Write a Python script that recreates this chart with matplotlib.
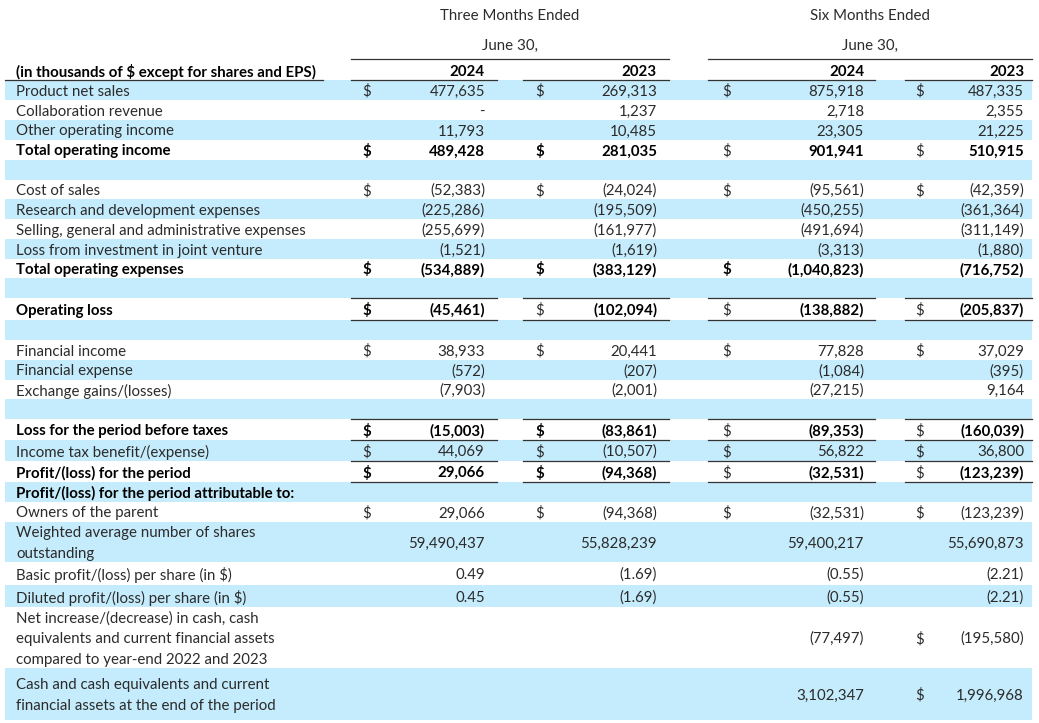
import matplotlib.pyplot as plt
from matplotlib.patches import Rectangle

plt.rcParams['font.family'] = ['Lato', 'DejaVu Sans']
plt.rcParams['text.parse_math'] = False

# table content
labels = [
    "Product net sales",
    "Collaboration revenue",
    "Other operating income",
    "Total operating income",
    "",
    "Cost of sales",
    "Research and development expenses",
    "Selling, general and administrative expenses",
    "Loss from investment in joint venture",
    "Total operating expenses",
    "",
    "Operating loss",
    "",
    "Financial income",
    "Financial expense",
    "Exchange gains/(losses)",
    "",
    "Loss for the period before taxes",
    "Income tax benefit/(expense)",
    "Profit/(loss) for the period",
    "Profit/(loss) for the period attributable to:",
    "Owners of the parent",
    "Weighted average number of shares\noutstanding",
    "Basic profit/(loss) per share (in $)",
    "Diluted profit/(loss) per share (in $)",
    "Net increase/(decrease) in cash, cash\nequivalents and current financial assets\ncompared to year-end 2022 and 2023",
    "Cash and cash equivalents and current\nfinancial assets at the end of the period",
]

q2_2024 = ["477,635", "-", "11,793", "489,428", "", "(52,383)", "(225,286)", "(255,699)",
           "(1,521)", "(534,889)", "", "(45,461)", "", "38,933", "(572)", "(7,903)", "",
           "(15,003)", "44,069", "29,066", "", "29,066", "59,490,437", "0.49", "0.45", "", ""]
q2_2023 = ["269,313", "1,237", "10,485", "281,035", "", "(24,024)", "(195,509)", "(161,977)",
           "(1,619)", "(383,129)", "", "(102,094)", "", "20,441", "(207)", "(2,001)", "",
           "(83,861)", "(10,507)", "(94,368)", "", "(94,368)", "55,828,239", "(1.69)", "(1.69)", "", ""]
h1_2024 = ["875,918", "2,718", "23,305", "901,941", "", "(95,561)", "(450,255)", "(491,694)",
           "(3,313)", "(1,040,823)", "", "(138,882)", "", "77,828", "(1,084)", "(27,215)", "",
           "(89,353)", "56,822", "(32,531)", "", "(32,531)", "59,400,217", "(0.55)", "(0.55)",
           "(77,497)", "3,102,347"]
h1_2023 = ["487,335", "2,355", "21,225", "510,915", "", "(42,359)", "(361,364)", "(311,149)",
           "(1,880)", "(716,752)", "", "(205,837)", "", "37,029", "(395)", "9,164", "",
           "(160,039)", "36,800", "(123,239)", "", "(123,239)", "55,690,873", "(2.21)", "(2.21)",
           "(195,580)", "1,996,968"]
columns = [q2_2024, q2_2023, h1_2024, h1_2023]
years = ["2024", "2023", "2024", "2023"]
groups = ["Three Months Ended", "Six Months Ended"]
dates = ["June 30,", "June 30,"]
header = "(in thousands of $ except for shares and EPS)"

# rows that carry a "$" sign, per column
dollar_rows = [
    [0, 3, 5, 9, 11, 13, 17, 18, 19, 21],
    [0, 3, 5, 9, 11, 13, 17, 18, 19, 21],
    [0, 3, 5, 9, 11, 13, 17, 18, 19, 21],
    [0, 3, 5, 11, 13, 17, 18, 19, 21, 25, 26],
]

# styling / layout
bold_rows = [3, 9, 11, 17, 19, 20]
bold_dollar = {3: [0, 1], 9: [0, 1, 2], 11: [0], 17: [0, 1], 19: [0, 1]}
row_h = [20, 20, 20, 20, 20, 19, 20, 20, 20, 19, 20, 22, 20, 20, 20, 19, 20,
         21, 21, 21, 20, 20, 40, 23, 22, 61, 52]
top_lines = [11, 17]
bottom_lines = [11, 17, 18, 19]
blue = '#C5ECFC'
ink = '#2B2B2B'
fs = 10.8
dy = 1.5  # small downward nudge of the text baseline

blocks = [(351, 497), (523, 669), (708, 875), (905, 1032)]
dollar_x = [362, 535, 722, 915]
value_x = [485, 657, 864, 1024]
label_x = 16
table_l, table_r = 5, 1032
y0 = 80

fig = plt.figure(figsize=(10.39, 7.23), dpi=100)
ax = fig.add_axes([0, 0, 1, 1])
ax.set_xlim(0, 1039)
ax.set_ylim(723, 0)
ax.axis('off')

# group headers
for g, (d, (a, b)) in enumerate(zip(dates, [(351, 669), (708, 1032)])):
    cx = (a + b) / 2
    ax.text(cx, 14 + dy, groups[g], ha='center', va='center', fontsize=fs, color=ink)
    ax.text(cx, 44 + dy, d, ha='center', va='center', fontsize=fs, color=ink)
    ax.plot([a, b], [59, 59], color='#333333', lw=0.9)

ax.text(label_x, 70 + dy, header, ha='left', va='center', fontsize=fs,
        fontweight='bold', color='black')
ax.plot([table_l, 323], [80, 80], color='#333333', lw=0.9)
for c, (a, b) in enumerate(blocks):
    ax.text(value_x[c], 70 + dy, years[c], ha='right', va='center', fontsize=fs,
            fontweight='bold', color='black')
    ax.plot([a, b], [80, 80], color='#333333', lw=0.9)

y = y0
for i, lab in enumerate(labels):
    h = row_h[i]
    if i % 2 == 0:
        ax.add_patch(Rectangle((table_l, y), table_r - table_l, h,
                               facecolor=blue, edgecolor='none', zorder=0))
    cy = y + h / 2 + dy
    bold = i in bold_rows
    col = 'black' if bold else ink
    ax.text(label_x, cy, lab, ha='left', va='center', fontsize=fs,
            fontweight='bold' if bold else 'normal', color=col, linespacing=1.58)
    for c, vals in enumerate(columns):
        if vals[i]:
            ax.text(value_x[c], cy, vals[i], ha='right', va='center', fontsize=fs,
                    fontweight='bold' if bold else 'normal', color=col)
        if i in dollar_rows[c]:
            bd = c in bold_dollar.get(i, [])
            ax.text(dollar_x[c], cy, "$", ha='left', va='center', fontsize=fs,
                    fontweight='bold' if bd else 'normal',
                    color='black' if bd else ink)
        a, b = blocks[c]
        if i in top_lines:
            ax.plot([a, b], [y, y], color='#333333', lw=0.9)
        if i in bottom_lines:
            ax.plot([a, b], [y + h, y + h], color='#333333', lw=0.9)
    y += h

fig.savefig('out.png', dpi=100, facecolor='white')
